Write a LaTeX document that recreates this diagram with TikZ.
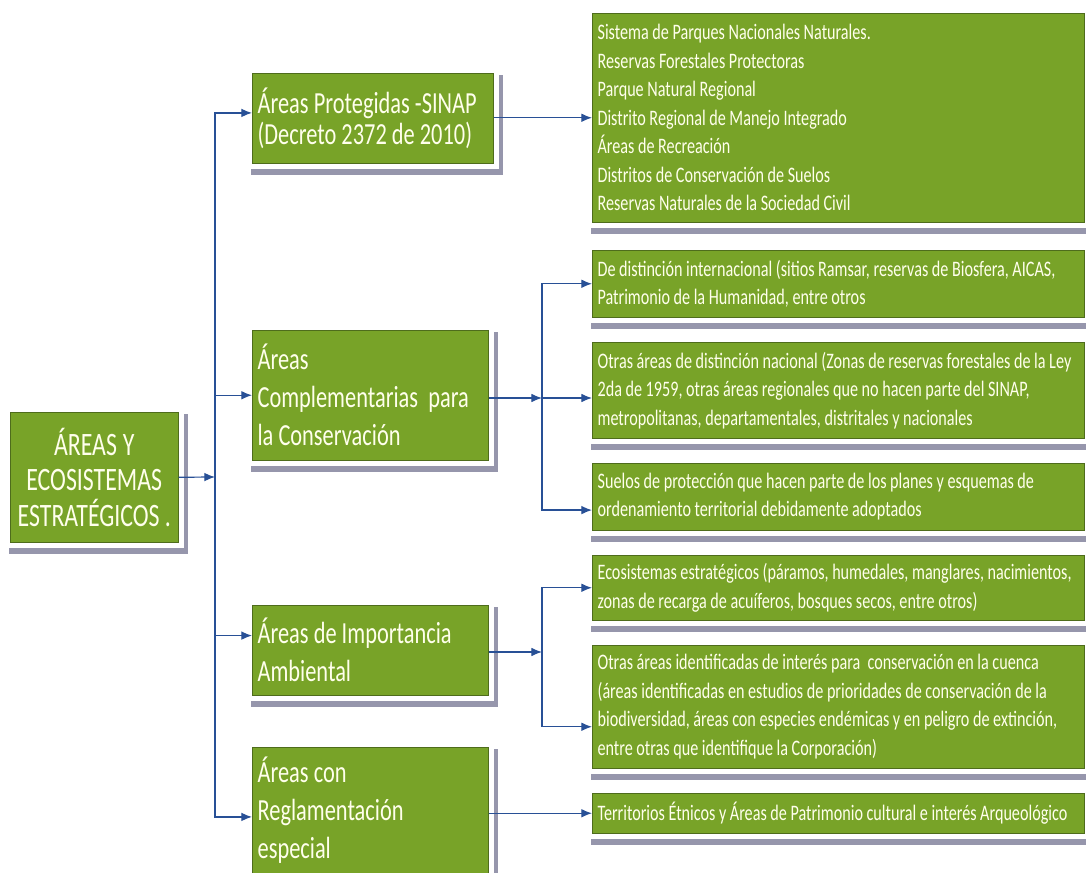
\documentclass[tikz,border=0pt]{standalone}
\usepackage{fontspec}
\setmainfont{Carlito}[FakeStretch=0.73]
\usetikzlibrary{calc,arrows.meta}

\definecolor{boxgreen}{RGB}{120,163,40}
\definecolor{boxedge}{RGB}{78,108,28}
\definecolor{linkblue}{RGB}{40,80,150}
\definecolor{shadowgray}{RGB}{150,150,172}
\definecolor{textcream}{RGB}{255,255,236}

\tikzset{
  card/.style={draw=boxedge, fill=boxgreen, text=textcream, anchor=north west,
    inner xsep=4pt, inner ysep=2pt, align=flush left,
    preaction={draw=shadowgray, fill=shadowgray, line width=8pt,
      transform canvas={shift={(3pt,-5pt)}}},
    preaction={draw=white, line width=9pt}},
  area/.style={card, font=\fontsize{23}{28.5}\selectfont,
    execute at begin node={\spaceskip=3.8pt plus 1pt minus 1pt\relax}},
  item/.style={card, font=\fontsize{16.6}{21.4}\selectfont,
    execute at begin node={\spaceskip=2.7pt plus 1pt minus 0.5pt\relax}},
  link/.style={linkblue, line width=0.9pt, -{Latex[length=8pt,width=6.5pt]}}
}

\begin{document}
\begin{tikzpicture}[x=0.75pt,y=-0.75pt]
\useasboundingbox (0,0) rectangle (1086,873);

% root
\node[area, align=center, text width=118pt, minimum height=97.5pt, font=\fontsize{24.5}{26.5}\selectfont] (root) at (10,412) {ÁREAS Y\\ECOSISTEMAS\\ESTRATÉGICOS .};

% categories
\node[area, text width=172.75pt, minimum height=67.5pt, font=\fontsize{23}{23}\selectfont] (prot) at (252,73) {Áreas Protegidas -SINAP\\(Decreto 2372 de 2010)};
\node[area, text width=169pt, minimum height=97.5pt] (comp) at (252,330) {Áreas\\Complementarias\ \ para\\la Conservación};
\node[area, text width=169pt, minimum height=67.5pt] (imp) at (252,605) {Áreas de Importancia\\Ambiental};
\node[area, text width=169pt, minimum height=94.5pt] (regl) at (252,747) {Áreas con\\Reglamentación\\especial};

% items
\node[item, text width=361pt, minimum height=156.75pt] (sist) at (592,13) {Sistema de Parques Nacionales Naturales.\\Reservas Forestales Protectoras\\Parque Natural Regional\\Distrito Regional de Manejo Integrado\\Áreas de Recreación\\Distritos de Conservación de Suelos\\Reservas Naturales de la Sociedad Civil};
\node[item, text width=361pt, minimum height=50.25pt] (dist) at (592,250) {De distinción internacional (sitios Ramsar, reservas de Biosfera, AICAS,\\Patrimonio de la Humanidad, entre otros};
\node[item, text width=361pt, minimum height=72pt] (otras) at (592,342) {Otras áreas de distinción nacional (Zonas de reservas forestales de la Ley\\2da de 1959, otras áreas regionales que no hacen parte del SINAP,\\metropolitanas, departamentales, distritales y nacionales};
\node[item, text width=361pt, minimum height=50.25pt] (suel) at (592,463) {Suelos de protección que hacen parte de los planes y esquemas de\\ordenamiento territorial debidamente adoptados};
\node[item, text width=361pt, minimum height=48.75pt] (eco) at (592,555) {Ecosistemas estratégicos (páramos, humedales, manglares, nacimientos,\\zonas de recarga de acuíferos, bosques secos, entre otros)};
\node[item, text width=361pt, minimum height=92.25pt] (idtf) at (592,645) {Otras áreas identificadas de interés para\ \ conservación en la cuenca\\(áreas identificadas en estudios de prioridades de conservación de la\\biodiversidad, áreas con especies endémicas y en peligro de extinción,\\entre otras que identifique la Corporación)};
\node[item, text width=361pt, minimum height=30pt] (terr) at (592,793) {Territorios Étnicos y Áreas de Patrimonio cultural e interés Arqueológico};

% trunk
\coordinate (trunk) at (215,477);
\draw[link] (root.east) -- (trunk);
\draw[link] (trunk) |- ([yshift=4pt]prot.west);
\draw[link] (trunk) |- (comp.west);
\draw[link] (trunk) |- ([yshift=11pt]imp.west);
\draw[link] (trunk) |- ([yshift=-5pt]regl.west);

% branches
\draw[link] (prot.east |- sist.west) -- (sist.west);
\coordinate (cb) at (542,398);
\draw[link] (comp.east |- cb) -- (cb);
\draw[link] (cb) |- (dist.west);
\draw[link] (cb) -- (cb -| otras.west);
\draw[link] (cb) |- ([yshift=-10pt]suel.west);
\coordinate (ib) at (542,652);
\draw[link] (imp.east |- ib) -- (ib);
\draw[link] (ib) |- (eco.west);
\draw[link] (ib) |- ([yshift=-15pt]idtf.west);
\draw[link] (regl.east |- terr.west) -- (terr.west);

\end{tikzpicture}
\end{document}
